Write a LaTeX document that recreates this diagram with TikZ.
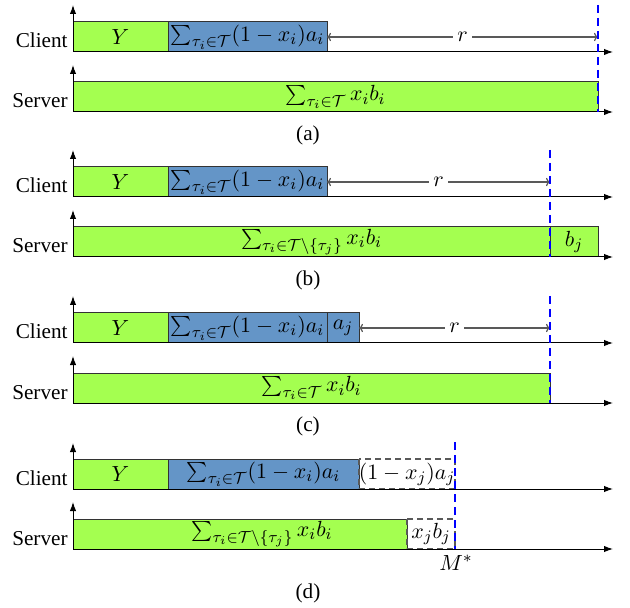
\documentclass[tikz,border=0pt]{standalone}
\usepackage[no-math]{fontspec}
\newfontfamily\timesf{Liberation Serif}
\usetikzlibrary{arrows.meta}
\definecolor{boxgreen}{RGB}{164,255,80}
\definecolor{boxblue}{RGB}{100,149,199}
\begin{document}
\begin{tikzpicture}[x=0.5pt,y=-0.5pt,
  lbl/.style={font=\timesf\fontsize{10.6}{12}\selectfont, inner sep=0pt},
  mth/.style={font=\fontsize{10.95}{13}\selectfont, inner sep=0pt},
  grn/.style={fill=boxgreen, draw=black!80, line width=0.5pt},
  blu/.style={fill=boxblue, draw=black!80, line width=0.5pt},
  ghost/.style={draw=black!65, dash pattern=on 3pt off 2pt, line width=0.6pt},
  axis/.style={draw=black, line width=0.5pt, -{Latex[length=4.5pt,width=3.2pt]}},
  span/.style={draw=black!65, line width=0.6pt, {To[length=2pt]}-{To[length=2pt]}},
  marker/.style={draw=blue, line width=1pt, dash pattern=on 4pt off 2.5pt}]
\useasboundingbox (0,0) rectangle (630,608);

% ---------- (a)
\path[grn] (73,22) rectangle (168,52);
\path[blu] (168,22) rectangle (327,52);
\path[grn] (73,82) rectangle (598,112);
\node[mth] (aY) at (120.5,37) {$Y$};
\node[mth] (aSa) at (247.5,37) {$\sum_{\tau_i\in\mathcal{T}}(1-x_i)a_i$};
\node[mth] (aSb) at (335.5,97) {$\sum_{\tau_i\in\mathcal{T}} x_ib_i$};
\coordinate (aO1) at (73,52); \coordinate (aT1) at (73,5); \coordinate (aE1) at (613,52);
\coordinate (aO2) at (73,112); \coordinate (aT2) at (73,65); \coordinate (aE2) at (613,112);
\draw[axis] (aO1) -- (aT1); \draw[axis] (aO1) -- (aE1);
\draw[axis] (aO2) -- (aT2); \draw[axis] (aO2) -- (aE2);
\node[lbl, anchor=base east] (aC) at (68,48) {Client};
\node[lbl, anchor=base east] (aS) at (68,108) {Server};
\coordinate (aR1) at (327,37); \coordinate (aR2) at (598,37);
\draw[span] (aR1) -- node[mth, fill=white, inner sep=2pt] (ar) {$r$} (aR2);
\coordinate (aM1) at (598,5); \coordinate (aM2) at (598,112);
\draw[marker] (aM1) -- (aM2);
\node[lbl] (acap) at (308,135) {(a)};

% ---------- (b)
\path[grn] (73,167) rectangle (168,197);
\path[blu] (168,167) rectangle (327,197);
\path[grn] (73,227) rectangle (550,257);
\path[grn] (550,227) rectangle (598,257);
\node[mth] (bY) at (120.5,182) {$Y$};
\node[mth] (bSa) at (247.5,182) {$\sum_{\tau_i\in\mathcal{T}}(1-x_i)a_i$};
\node[mth] (bSb) at (311.5,242) {$\sum_{\tau_i\in\mathcal{T}\setminus\{\tau_j\}} x_ib_i$};
\node[mth] (bbj) at (574,242) {$b_j$};
\coordinate (bO1) at (73,197); \coordinate (bT1) at (73,150); \coordinate (bE1) at (613,197);
\coordinate (bO2) at (73,257); \coordinate (bT2) at (73,210); \coordinate (bE2) at (613,257);
\draw[axis] (bO1) -- (bT1); \draw[axis] (bO1) -- (bE1);
\draw[axis] (bO2) -- (bT2); \draw[axis] (bO2) -- (bE2);
\node[lbl, anchor=base east] (bC) at (68,193) {Client};
\node[lbl, anchor=base east] (bS) at (68,253) {Server};
\coordinate (bR1) at (327,182); \coordinate (bR2) at (550,182);
\draw[span] (bR1) -- node[mth, fill=white, inner sep=2pt] (br) {$r$} (bR2);
\coordinate (bM1) at (550,150); \coordinate (bM2) at (550,257);
\draw[marker] (bM1) -- (bM2);
\node[lbl] (bcap) at (308,280) {(b)};

% ---------- (c)
\path[grn] (73,313) rectangle (168,343);
\path[blu] (168,313) rectangle (327,343);
\path[blu] (327,313) rectangle (359,343);
\path[grn] (73,373) rectangle (550,403);
\node[mth] (cY) at (120.5,328) {$Y$};
\node[mth] (cSa) at (247.5,328) {$\sum_{\tau_i\in\mathcal{T}}(1-x_i)a_i$};
\node[mth] (caj) at (343,328) {$a_j$};
\node[mth] (cSb) at (311.5,388) {$\sum_{\tau_i\in\mathcal{T}} x_ib_i$};
\coordinate (cO1) at (73,343); \coordinate (cT1) at (73,296); \coordinate (cE1) at (613,343);
\coordinate (cO2) at (73,403); \coordinate (cT2) at (73,356); \coordinate (cE2) at (613,403);
\draw[axis] (cO1) -- (cT1); \draw[axis] (cO1) -- (cE1);
\draw[axis] (cO2) -- (cT2); \draw[axis] (cO2) -- (cE2);
\node[lbl, anchor=base east] (cC) at (68,339) {Client};
\node[lbl, anchor=base east] (cS) at (68,399) {Server};
\coordinate (cR1) at (359,328); \coordinate (cR2) at (550,328);
\draw[span] (cR1) -- node[mth, fill=white, inner sep=2pt] (cr) {$r$} (cR2);
\coordinate (cM1) at (550,296); \coordinate (cM2) at (550,403);
\draw[marker] (cM1) -- (cM2);
\node[lbl] (ccap) at (308,426) {(c)};

% ---------- (d)
\path[grn] (73,459) rectangle (168,489);
\path[blu] (168,459) rectangle (359,489);
\path[ghost] (359,459) rectangle (455,489);
\path[grn] (73,519) rectangle (407,549);
\path[ghost] (407,519) rectangle (455,549);
\node[mth] (dY) at (120.5,474) {$Y$};
\node[mth] (dSa) at (263.5,474) {$\sum_{\tau_i\in\mathcal{T}}(1-x_i)a_i$};
\node[mth] (daj) at (407,474) {$(1-x_j)a_j$};
\node[mth] (dSb) at (262,534) {$\sum_{\tau_i\in\mathcal{T}\setminus\{\tau_j\}} x_ib_i$};
\node[mth] (dbj) at (431,534) {$x_jb_j$};
\coordinate (dO1) at (73,489); \coordinate (dT1) at (73,443); \coordinate (dE1) at (613,489);
\coordinate (dO2) at (73,549); \coordinate (dT2) at (73,502); \coordinate (dE2) at (613,549);
\draw[axis] (dO1) -- (dT1); \draw[axis] (dO1) -- (dE1);
\draw[axis] (dO2) -- (dT2); \draw[axis] (dO2) -- (dE2);
\node[lbl, anchor=base east] (dC) at (68,485) {Client};
\node[lbl, anchor=base east] (dS) at (68,545) {Server};
\coordinate (dM1) at (455,442); \coordinate (dM2) at (455,549);
\draw[marker] (dM1) -- (dM2);
\node[mth] (dMs) at (456,563) {$M^{*}$};
\node[lbl] (dcap) at (308,593) {(d)};
\end{tikzpicture}
\end{document}
